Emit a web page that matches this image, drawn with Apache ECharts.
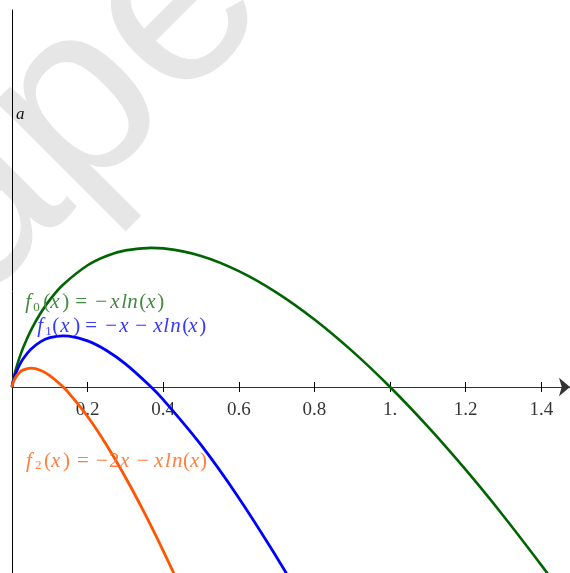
<!DOCTYPE html>
<html><head><meta charset="utf-8">
<script src="https://cdn.jsdelivr.net/npm/echarts@6/dist/echarts.min.js"></script>
<style>html,body{margin:0;padding:0;background:#fff}#c{width:570px;height:573px}</style>
</head><body><div id="c"></div>
<script>
// values
const f0X = [0, 0.001, 0.002, 0.005, 0.01, 0.02, 0.03, 0.05, 0.075, 0.1, 0.135, 0.2, 0.25, 0.3, 0.368, 0.4, 0.5, 0.6, 0.7, 0.8, 0.9, 1.0, 1.1, 1.2, 1.3, 1.4, 1.45];
const f0Y = [0, 0.0069, 0.0124, 0.0265, 0.0461, 0.0782, 0.1052, 0.1498, 0.1943, 0.2303, 0.2703, 0.3219, 0.3466, 0.3612, 0.3679, 0.3665, 0.3466, 0.3065, 0.2497, 0.1785, 0.0948, 0, -0.1048, -0.2188, -0.3411, -0.4711, -0.5388];
const f1X = [0, 0.001, 0.002, 0.005, 0.01, 0.02, 0.03, 0.05, 0.075, 0.1, 0.135, 0.15, 0.2, 0.25, 0.3, 0.368, 0.4, 0.5, 0.6, 0.7, 0.75];
const f1Y = [0, 0.0059, 0.0104, 0.0215, 0.0361, 0.0582, 0.0752, 0.0998, 0.1193, 0.1303, 0.1353, 0.1346, 0.1219, 0.0966, 0.0612, 0, -0.0335, -0.1534, -0.2935, -0.4503, -0.5342];
const f2X = [0, 0.001, 0.002, 0.005, 0.01, 0.02, 0.03, 0.05, 0.075, 0.1, 0.135, 0.15, 0.2, 0.25, 0.3, 0.35, 0.4, 0.45];
const f2Y = [0, 0.0049, 0.0084, 0.0165, 0.0261, 0.0382, 0.0452, 0.0498, 0.0443, 0.0303, 0.0003, -0.0154, -0.0781, -0.1534, -0.2388, -0.3326, -0.4335, -0.5407];
const xTickValues = [0.2, 0.4, 0.6, 0.8, 1.0, 1.2, 1.4];
const xTickLabels = ['0.2', '0.4', '0.6', '0.8', '1.', '1.2', '1.4'];
const yAxisName = 'a';
const watermarkText = 'ape';

const serif = '"Liberation Serif", "DejaVu Serif", serif';
function pairs(xs, ys) { return xs.map((x, i) => [x, ys[i]]); }

// label glyph runs: [kind, text, slot width]  (i = italic, n = upright, s = subscript)
const labelF0Runs = [['i','f',8],['s','0',10],['n','(',7],['i','x',12],['n',')',13],['n','=',20],['n','−',15],['i','x',11],['i','l',6],['i','n',12],['n','(',7],['i','x',11],['n',')',7]];
const labelF1Runs = [['i','f',8],['s','1',7],['n','(',8],['i','x',13],['n',')',12],['n','=',20],['n','−',14],['i','x',16],['n','−',18],['i','x',10],['i','l',7],['i','n',12],['n','(',6],['i','x',11],['n',')',7]];
const labelF2Runs = [['i','f',9],['s','2',9],['n','(',7],['i','x',12],['n',')',14],['n','=',19],['n','−',13],['n','2',11],['i','x',17],['n','−',17],['i','x',11],['i','l',7],['i','n',11],['n','(',7],['i','x',10],['n',')',7]];

function buildRich(runs, color) {
  const base = {
    i: { fontFamily: serif, fontStyle: 'italic', fontSize: 21, lineHeight: 22 },
    n: { fontFamily: serif, fontStyle: 'normal', fontSize: 21, lineHeight: 22 },
    s: { fontFamily: serif, fontStyle: 'normal', fontSize: 13, lineHeight: 12, verticalAlign: 'bottom' }
  };
  const rich = {};
  let str = '';
  runs.forEach(([k, t, w]) => {
    const name = k + w;
    if (!rich[name]) rich[name] = Object.assign({}, base[k], { width: w, align: 'left', color: color });
    str += '{' + name + '|' + t + '}';
  });
  return { str, rich };
}
function labelPoint(xs, ys, idx, runs, color, offset) {
  const r = buildRich(runs, color);
  return {
    symbol: 'circle', symbolSize: 1, silent: true, animation: false,
    itemStyle: { color: 'rgba(0,0,0,0)' },
    data: [{
      coord: [xs[idx], ys[idx]],
      label: { show: true, position: 'right', distance: 0, offset: offset, formatter: r.str, rich: r.rich }
    }]
  };
}

const chart = echarts.init(document.getElementById('c'), null, { renderer: 'canvas' });
chart.setOption({
  animation: false,
  backgroundColor: '#ffffff',
  grid: { left: 12, right: 0, top: 10, bottom: 0, containLabel: false, outerBoundsMode: 'none' },
  graphic: [{
    type: 'text', x: -70, y: 256, rotation: Math.PI / 4, silent: true, z: -10,
    style: { text: watermarkText, font: '250px "Liberation Sans"', fill: '#e6e6e6', textAlign: 'left', textVerticalAlign: 'middle' }
  }],
  xAxis: [{
    type: 'value', min: 0, max: 1.476, interval: 0.2,
    axisLine: { show: true, onZero: true, onZeroAxisIndex: 0, symbol: ['none', 'arrow'], symbolSize: [14, 11], lineStyle: { color: '#333', width: 1.2 } },
    axisTick: { show: true, inside: false, length: 5, customValues: xTickValues, lineStyle: { color: '#000', width: 1 } },
    axisLabel: { show: false },
    splitLine: { show: false }
  }, {
    type: 'value', min: 0, max: 1.476, position: 'bottom',
    axisLine: { show: false, onZero: true, onZeroAxisIndex: 0 },
    axisTick: { show: true, inside: true, length: 5, customValues: xTickValues, lineStyle: { color: '#000', width: 1 } },
    axisLabel: { show: false },
    splitLine: { show: false }
  }],
  yAxis: {
    type: 'value', min: -0.492, max: 0.997,
    name: yAxisName, nameLocation: 'end', nameGap: -105,
    nameTextStyle: { fontFamily: serif, fontStyle: 'italic', fontSize: 17, color: '#111', align: 'left', verticalAlign: 'middle', padding: [0, 0, 0, 4] },
    axisLine: { show: true, onZero: true, lineStyle: { color: '#000', width: 1 } },
    axisTick: { show: false }, axisLabel: { show: false }, splitLine: { show: false }
  },
  series: [{
    type: 'scatter', name: 'ticklabels', data: xTickValues.map(v => [v, 0]), xAxisIndex: 0,
    symbol: 'circle', symbolSize: 1, itemStyle: { color: 'rgba(0,0,0,0)' }, silent: true, z: 1,
    label: {
      show: true, position: 'bottom', distance: 13,
      fontFamily: serif, fontSize: 19, color: '#000',
      formatter: p => xTickLabels[p.dataIndex]
    }
  }, {
    type: 'line', name: 'f0', data: pairs(f0X, f0Y), showSymbol: false, smooth: 0.4, z: 3,
    lineStyle: { color: '#006400', width: 2.6 }, itemStyle: { color: '#006400' },
    markPoint: labelPoint(f0X, f0Y, 9, labelF0Runs, '#408b40', [-25, 3])
  }, {
    type: 'line', name: 'f1', data: pairs(f1X, f1Y), showSymbol: false, smooth: 0.4, z: 3,
    lineStyle: { color: '#0000ff', width: 2.8 }, itemStyle: { color: '#0000ff' },
    markPoint: labelPoint(f1X, f1Y, 9, labelF1Runs, '#3838ff', [-13, -11])
  }, {
    type: 'line', name: 'f2', data: pairs(f2X, f2Y), showSymbol: false, smooth: 0.4, z: 3,
    lineStyle: { color: '#ff5500', width: 2.8 }, itemStyle: { color: '#ff5500' },
    markPoint: labelPoint(f2X, f2Y, 12, labelF2Runs, '#ff8040', [-62, 45])
  }]
});
</script></body></html>
